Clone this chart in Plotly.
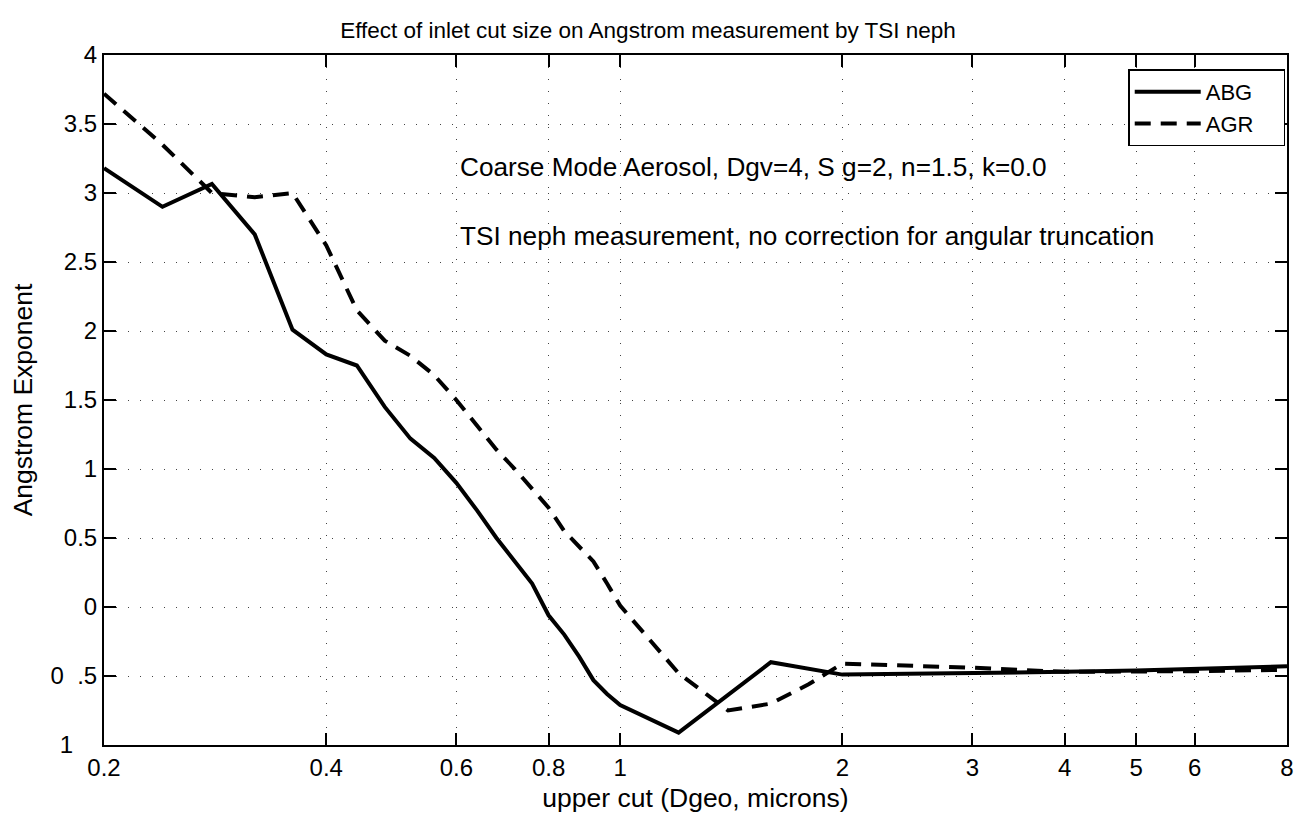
import math
import plotly.graph_objects as go

# ---- data ----
abg_x = [0.2, 0.24, 0.28, 0.32, 0.36, 0.40, 0.44, 0.48, 0.52, 0.56, 0.60, 0.64, 0.68, 0.72,
         0.76, 0.80, 0.84, 0.88, 0.92, 0.96, 1.0, 1.2, 1.6, 2.0, 3.0, 4.0, 5.0, 6.0, 8.0]
abg_y = [3.18, 2.90, 3.065, 2.70, 2.01, 1.83, 1.75, 1.45, 1.22, 1.08, 0.90, 0.70, 0.50, 0.33,
         0.17, -0.06, -0.20, -0.36, -0.53, -0.63, -0.71, -0.91, -0.40, -0.49, -0.48, -0.47,
         -0.46, -0.45, -0.43]

agr_x = [0.2, 0.24, 0.28, 0.32, 0.36, 0.40, 0.44, 0.48, 0.52, 0.56, 0.60, 0.64, 0.68, 0.72,
         0.76, 0.80, 0.84, 0.88, 0.92, 0.96, 1.0, 1.2, 1.4, 1.6, 1.8, 2.0, 3.0, 4.0, 5.0, 6.0, 8.0]
agr_y = [3.72, 3.35, 3.00, 2.97, 3.00, 2.62, 2.15, 1.93, 1.82, 1.68, 1.50, 1.32, 1.14, 1.00,
         0.86, 0.72, 0.55, 0.44, 0.33, 0.17, 0.01, -0.48, -0.75, -0.70, -0.56, -0.41, -0.44,
         -0.47, -0.47, -0.465, -0.455]

x_tickvals = [0.2, 0.4, 0.6, 0.8, 1, 2, 3, 4, 5, 6, 8]
x_ticktext = ["0.2", "0.4", "0.6", "0.8", "1", "2", "3", "4", "5", "6", "8"]
y_tickvals = [4, 3.5, 3, 2.5, 2, 1.5, 1, 0.5, 0, -0.5, -1]
y_ticktext = ["4", "3.5", "3", "2.5", "2", "1.5", "1", "0.5", "0", "0\u00a0\u00a0.5", "1\u2002\u2002"]

series_names = ["ABG", "AGR"]
title_text = "Effect of inlet cut size on Angstrom measurement by TSI neph"
note1 = "Coarse Mode Aerosol, Dgv=4, S g=2, n=1.5, k=0.0"
note2 = "TSI neph measurement, no correction for angular truncation"
note_x = 0.603
note1_y = 3.19
note2_y = 2.69

FONT = "Liberation Sans, Arial, sans-serif"
PAD = "\u00a0" * 4

fig = go.Figure()
fig.add_trace(go.Scatter(x=abg_x, y=abg_y, mode="lines", name=series_names[0] + PAD,
                         line=dict(color="black", width=4)))
fig.add_trace(go.Scatter(x=agr_x, y=agr_y, mode="lines", name=series_names[1] + PAD,
                         line=dict(color="black", width=4, dash="16px,10px")))

for txt, yy in ((note1, note1_y), (note2, note2_y)):
    fig.add_annotation(x=math.log10(note_x), y=yy, xref="x", yref="y", text=txt,
                       showarrow=False, xanchor="left", yanchor="middle",
                       font=dict(family=FONT, size=26.2, color="black"))

fig.update_layout(
    width=1296, height=813,
    margin=dict(l=104, r=9, t=55, b=68),
    paper_bgcolor="white", plot_bgcolor="white",
    font=dict(family=FONT, size=24, color="black"),
    title=dict(text=title_text, x=0.5, xanchor="center", y=1 - 30 / 813, yanchor="middle",
               yref="container", font=dict(family=FONT, size=22.5, color="black")),
    showlegend=True,
    legend=dict(x=0.9985, y=0.979, xanchor="right", yanchor="top",
                bgcolor="white", bordercolor="black", borderwidth=1.5,
                font=dict(family=FONT, size=22, color="black"),
                itemwidth=66, tracegroupgap=0),
    xaxis=dict(type="log", range=[math.log10(0.2), math.log10(8)],
               tickvals=x_tickvals, ticktext=x_ticktext, automargin=False,
               ticks="inside", ticklen=12, tickwidth=1.5, tickcolor="black",
               showline=True, linecolor="black", linewidth=2, mirror="allticks",
               showgrid=True, gridcolor="#444", gridwidth=1, griddash="1px,11px",
               zeroline=False,
               tickfont=dict(family=FONT, size=24, color="black"),
               title=dict(text="upper cut (Dgeo, microns)", standoff=9,
                          font=dict(family=FONT, size=26.5, color="black"))),
    yaxis=dict(range=[-1, 4], tickvals=y_tickvals, ticktext=y_ticktext, automargin=False,
               ticks="inside", ticklen=12, tickwidth=1.5, tickcolor="black",
               showline=True, linecolor="black", linewidth=2, mirror="allticks",
               showgrid=True, gridcolor="#444", gridwidth=1, griddash="1px,11px",
               zeroline=False,
               tickfont=dict(family=FONT, size=24, color="black"),
               title=dict(text="Angstrom Exponent", standoff=10,
                          font=dict(family=FONT, size=26.5, color="black"))),
)

fig.write_html("out.html", config={"displayModeBar": False},
               post_script="document.body.style.margin='0';document.body.style.overflow='hidden';")
